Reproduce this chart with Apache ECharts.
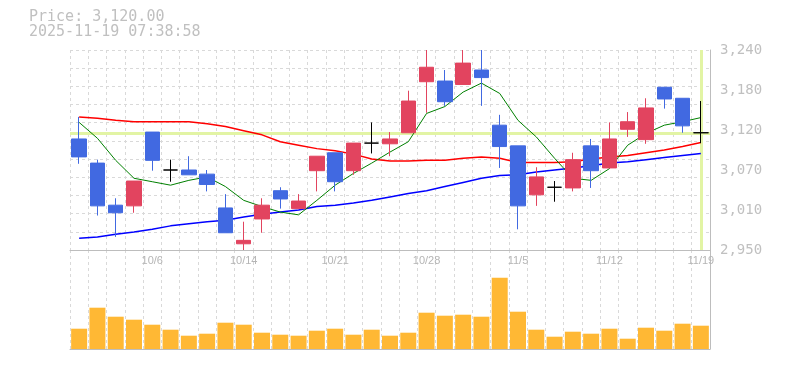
<!DOCTYPE html>
<html>
<head>
<meta charset="utf-8">
<script src="https://cdn.jsdelivr.net/npm/echarts@6/dist/echarts.min.js"></script>
<style>
html,body{margin:0;padding:0;background:#fff;}
#chart{width:785px;height:370px;}
</style>
</head>
<body>
<div id="chart"></div>
<script>
const dates = ['9/30','10/1','10/2','10/3','10/6','10/7','10/8','10/9','10/10','10/14',
  '10/15','10/16','10/17','10/20','10/21','10/22','10/23','10/24','10/27','10/28',
  '10/29','10/30','10/31','11/4','11/5','11/6','11/7','11/10','11/11','11/12',
  '11/13','11/14','11/17','11/18','11/19'];
const opens  = [3111,3076,3015,3014,3121,3066,3066,3060,3011,2959,2995,3036,3010,3065,3091,3065,3105,3104,3120,3194,3195,3190,3211,3131,3101,3030,3041,3040,3101,3069,3125,3110,3186,3170,3120];
const closes = [3085,3014,3004,3050,3080,3066,3059,3045,2975,2964,3015,3024,3021,3086,3049,3105,3105,3111,3166,3215,3165,3221,3200,3100,3014,3056,3041,3081,3065,3111,3136,3156,3169,3130,3120];
const lows   = [3075,3000,2969,3004,3065,3049,3059,3035,2975,2950,2975,3010,3010,3035,3035,3059,3090,3086,3120,3149,3159,3190,3159,3069,2980,3014,3020,3035,3040,3069,3114,3104,3155,3120,3105];
const highs  = [3143,3081,3025,3050,3121,3081,3086,3066,3031,2991,3025,3041,3031,3086,3091,3105,3135,3121,3181,3240,3211,3240,3240,3146,3101,3070,3050,3091,3111,3135,3150,3170,3186,3170,3166];
const maShort = [3135,3112,3080,3054,3049,3044,3051,3056,3042,3022,3013,3005,3001,3022,3044,3061,3076,3092,3107,3148,3158,3179,3192,3177,3138,3114,3083,3054,3051,3068,3102,3119,3131,3136,3142];
const maMid   = [3143,3141,3138,3136,3136,3136,3136,3133,3129,3123,3117,3107,3102,3097,3094,3089,3082,3079,3079,3080,3080,3083,3085,3083,3077,3077,3077,3078,3082,3085,3087,3091,3095,3100,3106];
const maLong  = [2967,2969,2973,2976,2980,2985,2988,2991,2993,2998,3002,3005,3008,3013,3015,3018,3022,3027,3032,3036,3042,3048,3054,3058,3059,3063,3066,3069,3072,3076,3078,3081,3084,3087,3090];
const volumes = [203000,413000,323000,293000,243000,193000,133000,153000,263000,243000,163000,143000,133000,183000,203000,143000,193000,133000,163000,363000,333000,343000,323000,713000,373000,193000,123000,173000,153000,203000,103000,213000,183000,253000,233000];
const yTickLabels = ['2,950','3,010','3,070','3,120','3,180','3,240'];
const xTickLabels = ['10/6','10/14','10/21','10/28','11/5','11/12','11/19'];
const lastPrice = 3120;
const titleLines = ['Price: 3,120.00','2025-11-19 07:38:58'];

const candleData = dates.map((d, i) => [opens[i], closes[i], lows[i], highs[i]]);

const gridLine = {show: true, lineStyle: {color: '#d9d9d9', type: [3, 3], width: 1}};
const axisCol = '#bdbdbd';

const chart = echarts.init(document.getElementById('chart'), null, {renderer: 'canvas'});
chart.setOption({
  animation: false,
  backgroundColor: '#ffffff',
  title: {
    text: titleLines.join('\n'),
    left: 24, top: 5,
    textStyle: {fontFamily: 'DejaVu Sans Mono', fontSize: 15, fontWeight: 'normal', color: '#c0c0c0', lineHeight: 15}
  },
  grid: [
    {left: 70, right: 75, top: 50, height: 200},
    {left: 70, right: 75, top: 250, height: 99}
  ],
  xAxis: [
    {type: 'category', gridIndex: 0, data: dates, boundaryGap: true,
     axisLine: {show: true, lineStyle: {color: axisCol}}, axisTick: {show: false},
     axisLabel: {interval: (i, v) => xTickLabels.indexOf(v) >= 0, color: '#b5b5b5', fontSize: 11, fontFamily: 'Liberation Sans', margin: 5},
     splitLine: Object.assign({interval: 0}, gridLine)},
    {type: 'category', gridIndex: 1, data: dates, boundaryGap: true,
     axisLine: {show: true, lineStyle: {color: axisCol}}, axisTick: {show: false},
     axisLabel: {show: false},
     splitLine: Object.assign({interval: 0}, gridLine)}
  ],
  yAxis: [
    {type: 'value', gridIndex: 0, min: 2950, max: 3240, position: 'right',
     axisLine: {show: true, lineStyle: {color: axisCol}}, axisTick: {show: false},
     axisLabel: {show: false}, splitLine: {show: false}},
    {type: 'value', gridIndex: 0, min: 0, max: 11, interval: 1, position: 'right',
     axisLine: {show: false}, axisTick: {show: false}, axisLabel: {show: false},
     splitLine: gridLine},
    {type: 'value', gridIndex: 0, min: 0, max: 5, interval: 1, position: 'right',
     axisLine: {show: false}, axisTick: {show: false}, splitLine: {show: false},
     axisLabel: {formatter: v => yTickLabels[v], color: '#c0c0c0', fontSize: 14, fontFamily: 'DejaVu Sans Mono', margin: 10, verticalAlign: 'middle', padding: [6, 0, 0, 0]}},
    {type: 'value', gridIndex: 1, min: 0, max: 990000, position: 'right',
     axisLine: {show: true, lineStyle: {color: axisCol}}, axisTick: {show: false},
     axisLabel: {show: false}, splitLine: {show: false}}
  ],
  series: [
    {type: 'line', name: 'price', xAxisIndex: 0, yAxisIndex: 0, data: [], z: 1, silent: true,
     markLine: {silent: true, symbol: 'none', z: 1, animation: false,
       label: {show: false},
       lineStyle: {color: '#e2f4a4', width: 3, type: 'solid'},
       emphasis: {disabled: true},
       data: [{yAxis: lastPrice}, {xAxis: dates[dates.length - 1]}]}},
    {type: 'line', name: 'maMid', xAxisIndex: 0, yAxisIndex: 0, data: maMid, showSymbol: false, silent: true, z: 3,
     lineStyle: {color: '#ff0000', width: 1.5}},
    {type: 'line', name: 'maLong', xAxisIndex: 0, yAxisIndex: 0, data: maLong, showSymbol: false, silent: true, z: 3,
     lineStyle: {color: '#0000ff', width: 1.5}},
    {type: 'line', name: 'maShort', xAxisIndex: 0, yAxisIndex: 0, data: maShort, showSymbol: false, silent: true, z: 3,
     lineStyle: {color: '#008000', width: 1}},
    {type: 'candlestick', name: 'candles', xAxisIndex: 0, yAxisIndex: 0, data: candleData, barWidth: 15, z: 5,
     itemStyle: {color: '#e2445f', color0: '#4169e1', borderColor: '#e2445f', borderColor0: '#4169e1', borderColorDoji: '#000000', borderWidth: 1}},
    {type: 'bar', name: 'volume', xAxisIndex: 1, yAxisIndex: 3, data: volumes, barWidth: 16, silent: true,
     itemStyle: {color: '#ffb834'}}
  ]
});
</script>
</body>
</html>
